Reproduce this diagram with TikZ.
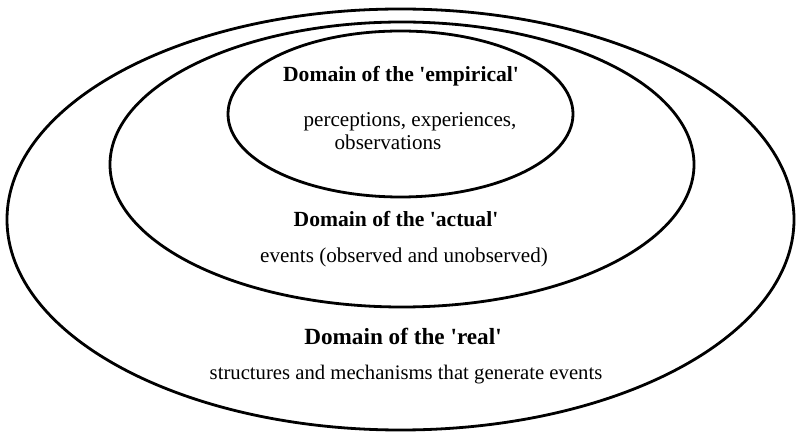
\documentclass[tikz,border=0pt]{standalone}
\usepackage{fontspec}
\setmainfont{Liberation Serif}
\usetikzlibrary{shapes.geometric}
\newcommand{\sq}{\textquotesingle}
\begin{document}
\begin{tikzpicture}[x=1bp,y=-1bp,
  ring/.style={draw=black, line width=2.8bp, ellipse, inner sep=0pt, fill=none},
  title/.style={font=\fontsize{21.6bp}{25bp}\selectfont\bfseries, anchor=base, inner sep=0pt},
  body/.style={font=\fontsize{21.1bp}{25bp}\selectfont, anchor=base, inner sep=0pt}]
\useasboundingbox (0,0) rectangle (796,434);
\fill[white] (0,0) rectangle (796,434);
\node[ring, minimum width=787bp, minimum height=421bp] (real) at (400.5,219.5) {};
\node[ring, minimum width=584bp, minimum height=285bp] (actual) at (402,164.5) {};
\node[ring, minimum width=345bp, minimum height=166bp] (empirical) at (400.5,114) {};
\node[title] (t1) at (401,82) {Domain of the \sq empirical\sq};
\node[body] (b1a) at (410,126.5) {perceptions, experiences,};
\node[body] (b1b) at (388,150) {observations};
\node[title] (t2) at (396,227) {Domain of the \sq actual\sq};
\node[body] (b2) at (404,263) {events (observed and unobserved)};
\node[title, font=\fontsize{23.2bp}{27bp}\selectfont\bfseries] (t3) at (403,345) {Domain of the \sq real\sq};
\node[body, font=\fontsize{20.7bp}{25bp}\selectfont] (b3) at (406,380) {structures and mechanisms that generate events};
\end{tikzpicture}
\end{document}
